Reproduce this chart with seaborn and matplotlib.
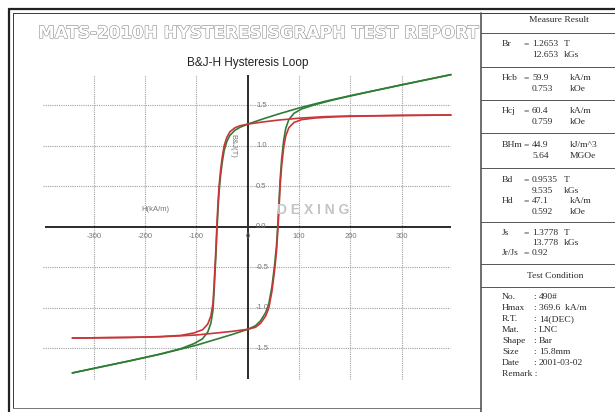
import matplotlib
matplotlib.use("Agg")
import matplotlib.pyplot as plt
import matplotlib.patheffects as pe
from matplotlib.lines import Line2D
import numpy as np
import pandas as pd
import seaborn as sns

# ---- data ----
# descending (upper) branch, H in kA/m
h_desc = [396, 300, 200, 150, 100, 60, 30, 0, -15, -25, -35, -41, -46, -50, -53, -56,
          -58, -60, -62, -64, -66, -68, -72, -78, -88, -105, -130, -170, -230, -300, -342]
j_desc = [1.377, 1.372, 1.365, 1.357, 1.338, 1.315, 1.292, 1.265, 1.245, 1.22, 1.17, 1.10,
          1.0, 0.85, 0.7, 0.5, 0.3, 0.05, -0.25, -0.5, -0.75, -0.95, -1.1, -1.2, -1.27,
          -1.31, -1.34, -1.355, -1.365, -1.37, -1.373]
b_desc = [1.875, 1.749, 1.616, 1.545, 1.464, 1.390, 1.330, 1.265, 1.226, 1.189, 1.126, 1.048,
          0.942, 0.787, 0.633, 0.430, 0.227, -0.025, -0.328, -0.580, -0.833, -1.035, -1.190,
          -1.298, -1.381, -1.442, -1.503, -1.569, -1.654, -1.747, -1.803]
# ascending (lower) branch
h_asc = [-342, -300, -230, -170, -130, -100, -60, -30, 0, 15, 25, 35, 41, 47, 52, 56,
         59, 61, 63, 66, 70, 74, 80, 90, 105, 130, 170, 230, 300, 396]
j_asc = [-1.373, -1.37, -1.365, -1.357, -1.345, -1.335, -1.31, -1.29, -1.265, -1.24, -1.19,
         -1.1, -1.0, -0.8, -0.55, -0.3, 0.0, 0.25, 0.5, 0.75, 0.98, 1.12, 1.22, 1.285, 1.32,
         1.34, 1.355, 1.365, 1.372, 1.377]
b_asc = [-1.803, -1.747, -1.654, -1.571, -1.508, -1.461, -1.385, -1.328, -1.265, -1.221,
         -1.159, -1.056, -0.948, -0.741, -0.485, -0.230, 0.074, 0.327, 0.579, 0.833, 1.068,
         1.213, 1.321, 1.398, 1.452, 1.503, 1.569, 1.654, 1.749, 1.875]

x_ticks = [-300, -200, -100, 0, 100, 200, 300]
y_ticks = [-1.5, -1.0, -0.5, 0.0, 0.5, 1.0, 1.5]
y_tick_labels = ["-1.5", "-1.0", "-0.5", "0.0", "0.5", "1.0", "1.5"]

measure_rows = [  # label, value, unit, y(px)
    ("Br", "1.2653", "T", 44), ("", "12.653", "kGs", 55),
    ("Hcb", "59.9", "kA/m", 78), ("", "0.753", "kOe", 89),
    ("Hcj", "60.4", "kA/m", 111), ("", "0.759", "kOe", 122),
    ("BHm", "44.9", "kJ/m^3", 145), ("", "5.64", "MGOe", 156),
    ("Bd", "0.9535", "T", 180), ("", "9.535", "kGs", 191),
    ("Hd", "47.1", "kA/m", 201), ("", "0.592", "kOe", 212),
    ("Js", "1.3778", "T", 233), ("", "13.778", "kGs", 243),
    ("Jr/Js", "0.92", "", 253),
]
condition_rows = [
    ("No.", "490#", 297), ("Hmax", "369.6  kA/m", 308), ("R.T.", "14(DEC)", 319),
    ("Mat.", "LNC", 330), ("Shape", "Bar", 341), ("Size", "15.8mm", 352),
    ("Date", "2001-03-02", 363),
]
table_lines = [33, 67, 100, 133, 168, 222, 264, 287]

W, Hpx = 615, 412
sns.set_style("white")
plt.rcParams["font.family"] = ["Liberation Sans", "DejaVu Sans"]

fig = plt.figure(figsize=(6.15, 4.12), dpi=100)


def fx(px):
    return px / W


def fy(py):
    return 1 - py / Hpx


def px2h(px):
    return (px - 247.8) / 0.513


def py2b(py):
    return (226.7 - py) / 81.1


def fline(x0, y0, x1, y1, lw=0.8, color="#3a3a3a"):
    fig.add_artist(Line2D([fx(x0), fx(x1)], [fy(y0), fy(y1)],
                          transform=fig.transFigure, color=color, lw=lw))


# frame
fline(9, 9, 615, 9, lw=1.6, color="#222")
fline(9, 9, 9, 412, lw=1.6, color="#222")
fline(12.5, 12.5, 615, 12.5, lw=0.7)
fline(12.5, 12.5, 12.5, 408, lw=0.7)
fline(12.5, 408, 481, 408, lw=0.7, color="#777")
fline(481, 12.5, 481, 412, lw=1.2, color="#555")
for y in table_lines:
    fline(481, y, 615, y, lw=0.7, color="#555")

# header (hollow letters)
hdr = fig.text(fx(257.5), fy(33), "MATS-2010H HYSTERESISGRAPH TEST REPORT",
               ha="center", va="center", fontsize=14, fontweight="bold",
               family="DejaVu Sans", color="white",
               path_effects=[pe.withStroke(linewidth=0.8, foreground="#8c8c8c")])
fig.canvas.draw()
bb = hdr.get_window_extent()
hdr.set_fontsize(14 * 441 / bb.width)

# plot area
ax = fig.add_axes([fx(40), fy(385), fx(455) - fx(40), fy(70) - fy(385)])
ax.set_xlim(px2h(40), px2h(455))
ax.set_ylim(py2b(385), py2b(70))
ax.set_axis_off()

grid_kw = dict(colors="#a0a0a0", linestyles=(0, (1, 1)), lw=0.8)
ax.vlines([t for t in x_ticks if t != 0], -1.88, 1.87, **grid_kw)
ax.hlines([t for t in y_ticks if t != 0], -399, 394, **grid_kw)
ax.hlines(0, -395, 396, color="#2b2b2b", lw=1.4)
ax.vlines(0, -1.88, 1.87, color="#2b2b2b", lw=1.4)

df = pd.concat([
    pd.DataFrame({"H": h_desc, "val": b_desc, "kind": "B", "branch": "B_desc"}),
    pd.DataFrame({"H": h_asc, "val": b_asc, "kind": "B", "branch": "B_asc"}),
    pd.DataFrame({"H": h_desc, "val": j_desc, "kind": "J", "branch": "J_desc"}),
    pd.DataFrame({"H": h_asc, "val": j_asc, "kind": "J", "branch": "J_asc"}),
])
sns.lineplot(data=df, x="H", y="val", hue="kind", units="branch", estimator=None,
             sort=False, palette={"B": "#2f7d35", "J": "#c8363a"}, lw=1.2,
             legend=False, ax=ax)
ax.set_axis_off()

tick_kw = dict(fontsize=5.5, color="#777777")
for t in x_ticks:
    ax.text(t, -0.115, str(t), ha="center", va="center", **tick_kw)
for t, lab in zip(y_ticks, y_tick_labels):
    ax.text(16, t, lab, ha="left", va="center", **tick_kw)

ax.text(-180, 0.206, "H(kA/m)", ha="center", va="center", **tick_kw)
ax.text(-29, 1.0, "B&J(T)", ha="center", va="center", rotation=270, **tick_kw)
ax.text(127, 0.206, "D E X I N G", ha="center", va="center", fontsize=10,
        fontweight="bold", color="#c4c4c4")

fig.text(fx(247.5), fy(63), "B&J-H Hysteresis Loop", ha="center", va="center",
         fontsize=8.5, color="#222")

# right-hand report table
tab_kw = dict(family="Liberation Serif", fontsize=6.8, color="#2a2a2a", va="center")
fig.text(fx(559), fy(20), "Measure Result", ha="center", **tab_kw)
for lab, val, unit, y in measure_rows:
    if lab:
        fig.text(fx(502), fy(y), lab, ha="left", **tab_kw)
        fig.text(fx(524), fy(y), "=", ha="left", **tab_kw)
    fig.text(fx(532), fy(y), val, ha="left", **tab_kw)
    if unit:
        ux = 564 if unit in ("T", "kGs") else 570
        fig.text(fx(ux), fy(y), unit, ha="left", **tab_kw)

fig.text(fx(555), fy(276), "Test Condition", ha="center", **tab_kw)
for lab, val, y in condition_rows:
    fig.text(fx(502), fy(y), lab, ha="left", **tab_kw)
    fig.text(fx(533), fy(y), ":", ha="left", **tab_kw)
    fig.text(fx(539), fy(y), val, ha="left", **tab_kw)
fig.text(fx(502), fy(374), "Remark :", ha="left", **tab_kw)

fig.savefig("out.png", dpi=100)
